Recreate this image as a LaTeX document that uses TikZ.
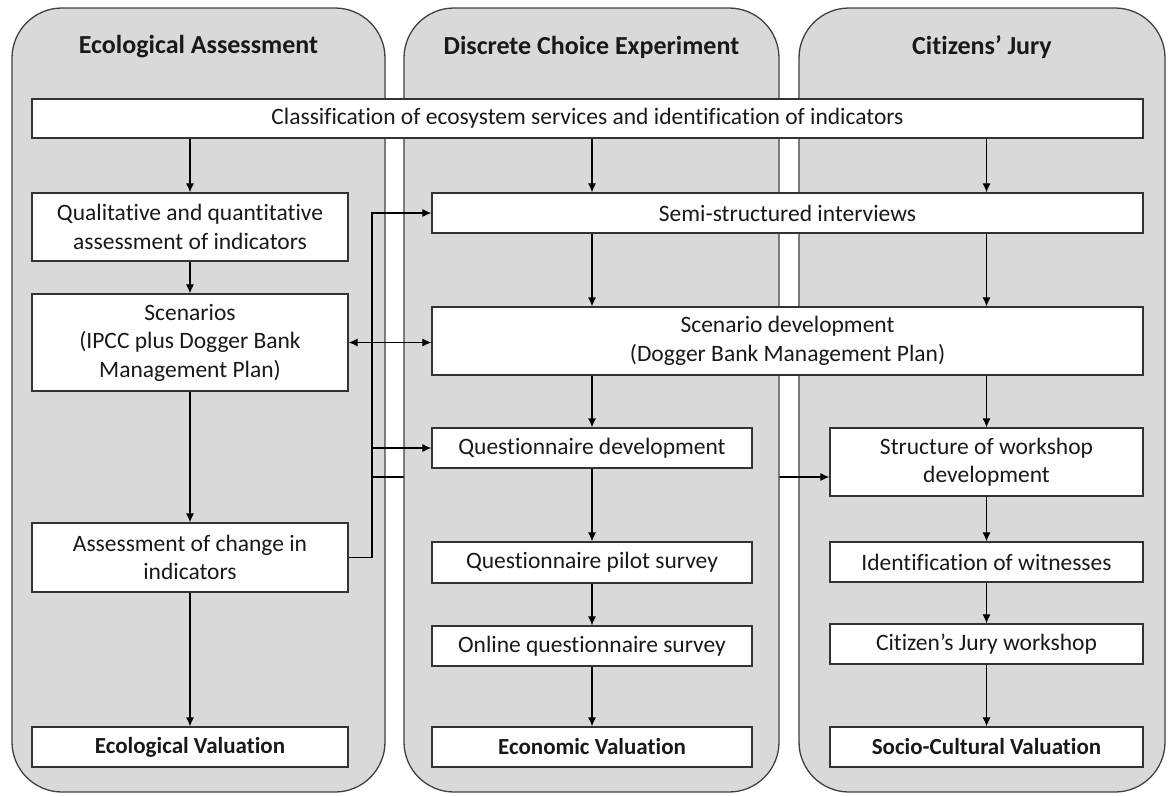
\documentclass[tikz,border=0pt]{standalone}
\usepackage{fontspec}
\setmainfont{Carlito}[Ligatures=NoCommon]
\usepackage{tikz}
\usetikzlibrary{shapes.geometric, arrows, arrows.meta}
\pgfdeclarelayer{bg}
\pgfdeclarelayer{under}
\pgfdeclarelayer{over}
\pgfsetlayers{bg,under,over,main}
\tikzstyle{panel} = [rectangle, rounded corners=50pt, minimum height=784pt, draw=black!75, line width=1.3pt, fill=black!15]
\tikzstyle{heading} = [font=\fontsize{26}{30}\selectfont\bfseries, text=black!90]
\tikzstyle{stage} = [font=\fontsize{23.5}{28.5}\selectfont, rectangle, align=center, inner sep=0pt, draw=black!80, line width=1.3pt, fill=white, text=black!90]
\tikzstyle{result} = [stage, font=\fontsize{23}{28.5}\selectfont\bfseries, minimum height=40pt]
\tikzstyle{arrow} = [line width=1.1pt,->,>={Latex[length=9pt,width=8pt]}]

\begin{document}
\begin{tikzpicture}[x=1pt,y=-1pt]
  \useasboundingbox (0,0) rectangle (1169,795);
  \begin{pgfonlayer}{bg}
    \node (eco panel) [panel, minimum width=373pt] at (198.5,400) {};
    \node (jury panel) [panel, minimum width=366pt] at (982,400) {};
  \end{pgfonlayer}
  \begin{pgfonlayer}{over}
    \node (dce panel) [panel, minimum width=375pt] at (591.5,400) {};
  \end{pgfonlayer}
  \node (eco head) [heading] at (198.5,47) {Ecological Assessment};
  \node (dce head) [heading] at (591.5,47) {Discrete Choice Experiment};
  \node (jury head) [heading] at (982,47) {Citizens’ Jury};
  \node (classification) [stage, minimum width=1111pt, minimum height=39pt] at (587.5,118.5)
    {Classification of ecosystem services and identification of indicators};
  % ecological column
  \node (qual) [stage, minimum width=316pt, minimum height=68pt] at (190,227)
    {Qualitative and quantitative\\assessment of indicators};
  \node (scenarios) [stage, minimum width=316pt, minimum height=97pt] at (190,342.5)
    {Scenarios\\(IPCC plus Dogger Bank\\Management Plan)};
  \node (change) [stage, minimum width=316pt, minimum height=69pt] at (190,557.5)
    {Assessment of change in\\indicators};
  \node (eco val) [result, minimum width=316pt] at (190,747) {Ecological Valuation};
  % choice experiment column
  \node (interviews) [stage, minimum width=711pt, minimum height=40pt] at (787.5,213)
    {Semi-structured interviews};
  \node (scen dev) [stage, minimum width=711pt, minimum height=68pt] at (787.5,341)
    {Scenario development\\(Dogger Bank Management Plan)};
  \node (quest dev) [stage, minimum width=320pt, minimum height=40pt] at (592,448)
    {Questionnaire development};
  \node (pilot) [stage, minimum width=320pt, minimum height=41pt] at (592,562.5)
    {Questionnaire pilot survey};
  \node (online) [stage, minimum width=320pt, minimum height=40pt] at (592,646)
    {Online questionnaire survey};
  \node (econ val) [result, minimum width=320pt] at (592,747) {Economic Valuation};
  % jury column
  \node (workshop dev) [stage, minimum width=313pt, minimum height=68pt] at (986.5,462)
    {Structure of workshop\\development};
  \node (witnesses) [stage, minimum width=313pt, minimum height=40pt] at (986.5,562)
    {Identification of witnesses};
  \node (jury ws) [stage, minimum width=313pt, minimum height=40pt] at (986.5,644)
    {Citizen’s Jury workshop};
  \node (socio val) [result, minimum width=313pt] at (986.5,747) {Socio-Cultural Valuation};
  \coordinate (bend) at (372,557.5);
  \coordinate (tap) at (372,477);
  \draw[arrow](qual |- classification.south) -- (qual);
  \draw[arrow](quest dev |- classification.south) -- (quest dev |- interviews.north);
  \draw[arrow](workshop dev |- classification.south) -- (workshop dev |- interviews.north);
  \draw[arrow](qual) -- (scenarios);
  \draw[arrow](scenarios) -- (change);
  \draw[arrow](change) -- (eco val);
  \draw[arrow](quest dev |- interviews.south) -- (quest dev |- scen dev.north);
  \draw[arrow](workshop dev |- interviews.south) -- (workshop dev |- scen dev.north);
  \draw[arrow](quest dev |- scen dev.south) -- (quest dev);
  \draw[arrow](workshop dev |- scen dev.south) -- (workshop dev);
  \draw[arrow](quest dev) -- (pilot);
  \draw[arrow](pilot) -- (online);
  \draw[arrow](online) -- (econ val);
  \draw[arrow](workshop dev) -- (witnesses);
  \draw[arrow](witnesses) -- (jury ws);
  \draw[arrow](jury ws) -- (socio val);
  \draw[arrow,<->](scenarios.east) -- (scenarios.east -| scen dev.west);
  \draw[arrow](change.east) -- (bend) |- (interviews.west);
  \draw[arrow](bend |- quest dev.west) -- (quest dev.west);
  \begin{pgfonlayer}{under}
    \draw[arrow](tap) -- (tap -| workshop dev.west);
  \end{pgfonlayer}
\end{tikzpicture}
\end{document}
